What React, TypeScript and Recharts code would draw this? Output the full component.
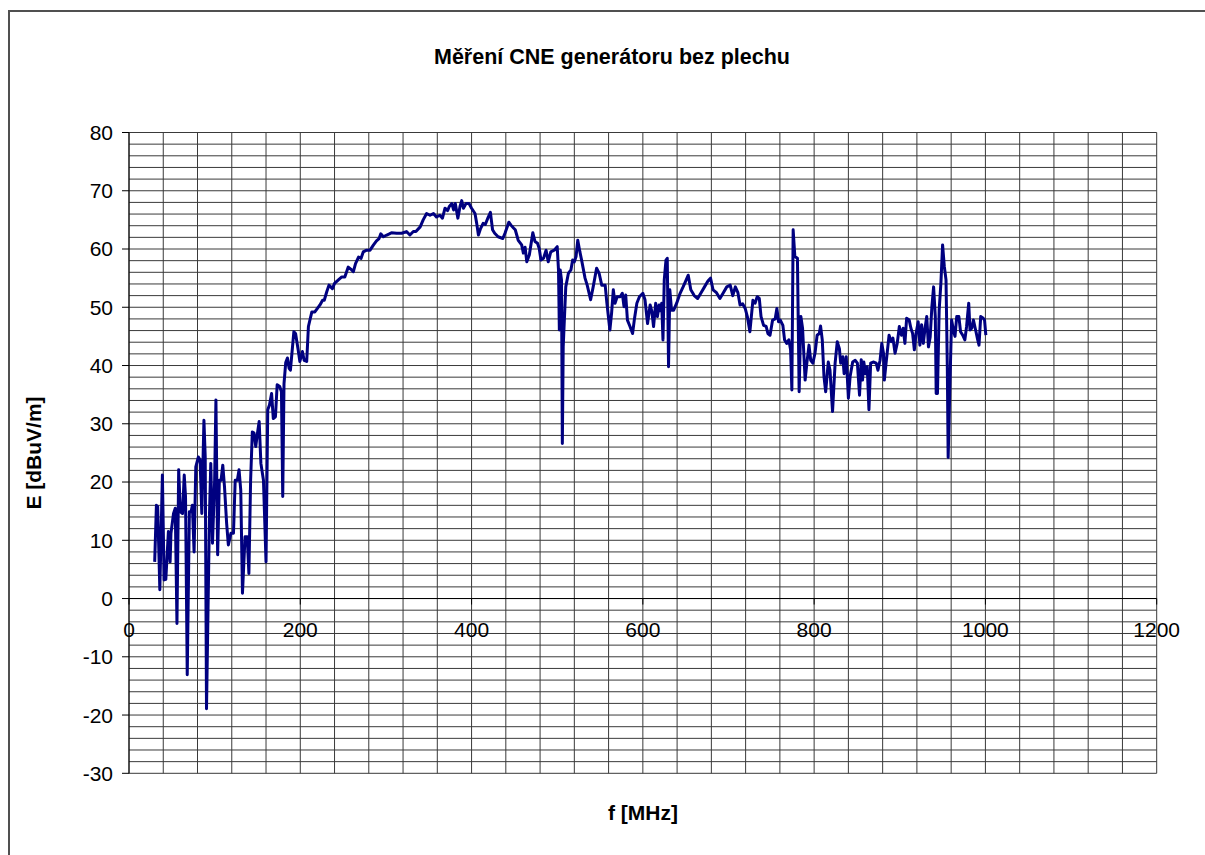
import React from 'react';
import { LineChart, Line, XAxis, YAxis, CartesianGrid, ReferenceLine } from 'recharts';

const TITLE = 'Měření CNE generátoru bez plechu';
const X_LABEL = 'f [MHz]';
const Y_LABEL = 'E [dBuV/m]';

const X_TICKS = [0, 200, 400, 600, 800, 1000, 1200];
const Y_TICKS = [-30, -20, -10, 0, 10, 20, 30, 40, 50, 60, 70, 80];

const FREQ_LOW = [
  30, 32, 33.5, 36, 39, 41, 43, 46, 48, 49, 52, 54, 56, 58, 60, 62.5, 64.5, 66, 68, 70.5,
  72.5, 74, 76, 78, 81, 83, 85, 87.5, 89, 90.5, 94, 95.5, 97.5, 100, 101.5, 103.5, 105.5, 107.5, 109.5, 111.5,
  114, 116, 119, 122, 124, 126.5, 128.5, 130.5, 132.5, 135.5, 138, 140, 142, 144, 146, 148, 150, 152, 154, 157,
  160, 162, 164, 166.5, 168.5, 171, 173, 176, 178, 179.5, 181, 183, 185, 187,
];
const LEVEL_LOW = [
  6.3, 16.0, 15.8, 1.5, 21.2, 3.2, 3.3, 11.5, 6.3, 11.2, 14.6, 15.5, -4.3, 22.1, 14.9, 14.6, 21.2, 17.5, -13.1, 14.9,
  14.9, 16.0, 8.0, 22.6, 24.3, 23.8, 14.6, 30.6, 24.3, -18.9, 14.6, 23.2, 9.5, 20.3, 34.1, 7.5, 20.3, 20.3, 22.9, 19.2,
  12.9, 9.2, 11.2, 11.2, 20.3, 20.3, 22.1, 18.6, 0.9, 10.6, 10.6, 4.3, 20.3, 28.6, 28.4, 26.1, 28.4, 30.4, 23.2, 20.3,
  6.3, 32.4, 33.2, 35.2, 30.9, 31.2, 36.7, 36.4, 35.5, 17.5, 36.9, 40.5, 41.3, 39.5,
];

const FREQ_MID = [
  188.5, 192.5, 194.5, 197.5, 199.5, 202.5, 204.5, 207.5, 209.5, 213.5, 217, 220, 223, 226, 228, 231, 233.5, 237.5, 240, 244.5,
  248.5, 252, 256, 260, 262, 264.5, 268, 271, 273.5, 277.5, 281.5, 285.5, 289, 292, 294, 297, 301, 304, 306.5, 312.5,
  318.5, 324, 328, 332, 335, 340, 343.5, 347.5, 351.5, 355.5, 359, 363, 366, 369, 372, 374, 377, 379, 381, 384,
  386.5, 388.5, 390.5, 393.5, 397, 400, 404, 406, 408, 410.5, 413.5, 416, 419, 422, 424.5, 427, 431, 436.5, 439, 443.5,
  446, 449, 451, 454.5, 458.5, 460.5, 462.5, 464.5, 467.5, 471.5, 474, 477, 479, 481, 484, 487, 489.5, 492.5, 496.5, 500,
  501.5, 502.5, 503.5, 505, 506, 507, 510, 513, 516, 518, 520, 522, 524, 526.5, 528.5, 532.5, 535, 539, 542, 546,
  549, 552, 556, 558, 561.5, 563.5, 565.5, 567.5, 570, 573.5, 576, 578, 580, 582, 585, 588, 590, 593, 596, 600,
  602.5, 605.5, 608.5, 610.5, 612.5, 615, 617, 619, 620.5, 622, 623.5, 625, 627, 628.5, 630, 631.5, 633.5, 636, 639.5, 643.5,
];
const LEVEL_MID = [
  39.2, 45.8, 45.5, 42.7, 40.7, 42.4, 40.9, 40.7, 46.7, 49.2, 49.2, 49.8, 50.4, 51.2, 51.2, 52.7, 53.8, 53.2, 54.1, 54.7,
  55.2, 55.2, 56.9, 56.4, 56.1, 57.5, 58.6, 58.4, 59.5, 59.8, 59.8, 60.7, 61.4, 61.8, 62.6, 62.1, 62.4, 62.6, 62.8, 62.7,
  62.7, 63.0, 62.4, 63.0, 63.0, 63.8, 65.0, 66.1, 65.8, 66.1, 65.5, 65.8, 65.3, 67.0, 66.6, 67.3, 67.8, 66.7, 67.8, 65.3,
  67.3, 68.3, 67.0, 67.8, 67.8, 67.0, 66.1, 64.4, 62.4, 63.5, 64.4, 64.2, 65.3, 66.3, 63.3, 62.7, 62.1, 61.8, 62.7, 64.6,
  64.1, 63.6, 63.3, 61.5, 60.7, 59.3, 60.3, 57.8, 59.0, 62.8, 61.3, 61.0, 60.1, 58.1, 58.4, 59.8, 57.8, 59.5, 59.8, 60.4,
  56.4, 46.1, 56.4, 54.7, 26.6, 43.2, 53.5, 55.8, 56.4, 58.1, 57.8, 58.7, 61.5, 59.5, 58.1, 55.0, 53.8, 51.3, 53.5, 56.7,
  55.8, 53.8, 53.8, 50.7, 46.1, 49.0, 53.0, 50.7, 51.8, 51.8, 52.4, 50.1, 52.1, 47.8, 46.7, 45.5, 47.8, 50.7, 51.8, 52.4,
  51.3, 47.2, 50.4, 49.3, 46.7, 50.7, 48.4, 50.4, 49.4, 50.7, 44.4, 54.7, 58.1, 58.4, 39.8, 53.0, 49.5, 49.5, 50.7, 52.4,
];

const FREQ_HIGH = [
  647, 650, 653, 656, 660, 664, 668, 672, 676, 679, 682, 686, 690, 694, 698, 702, 705, 708, 711,
  713.5, 716.5, 719.5, 722, 725, 728.5, 731, 733.5, 736, 738, 741, 744, 746, 748.5, 751.5, 754.5, 756.5, 758.5, 760.5, 763.5,
  765.5, 768, 770.5, 772.5, 774, 775.5, 777.5, 780.5, 782.5, 784.5, 786.5, 789.5, 791.5, 794, 796, 798.5, 801, 803.5, 806, 807.5,
  809.5, 811.5, 813.5, 816.5, 818.5, 821.5, 824.5, 827, 829.5, 831, 833.5, 835, 837.5, 840, 842, 845, 848, 850.5, 853, 855,
  856.5, 858, 860, 862, 864, 866, 869, 872.5, 874.5, 877, 879, 881, 882, 884, 887.5, 890, 892, 894.5, 897, 899.5,
  902, 904, 906, 908, 911, 913, 915, 917, 919, 921.5, 923.5, 925.5, 927.5, 929.5, 931.5, 933.5, 935.5, 937.5, 939.5, 941.5,
  942.5, 944, 946, 948, 950, 952, 954, 955.5, 956.5, 958.5, 960.5, 963, 964.5, 966.5, 969, 971, 973.5, 976, 978, 980.5,
  982, 984, 986, 989, 991, 992.5, 994.5, 997.5, 999, 1000.5,
];
const LEVEL_HIGH = [
  53.5, 54.5, 55.5, 53.0, 52.0, 51.5, 52.5, 53.5, 54.5, 55.0, 53.0, 52.5, 51.5, 52.5, 53.5, 53.8, 52.0, 53.5, 52.5,
  50.4, 50.6, 49.8, 48.4, 45.8, 51.2, 50.7, 51.8, 51.5, 48.4, 46.9, 46.7, 45.5, 45.2, 47.8, 48.0, 49.8, 47.5, 47.8, 46.9,
  44.4, 43.8, 44.4, 42.7, 35.8, 63.3, 58.7, 58.4, 35.5, 48.4, 46.4, 37.5, 40.4, 43.5, 40.9, 40.4, 42.1, 45.2, 45.5, 46.8,
  44.4, 38.1, 35.5, 40.6, 39.2, 32.1, 40.4, 44.1, 42.9, 40.4, 41.5, 38.6, 41.5, 34.4, 38.1, 40.6, 40.9, 40.4, 34.9, 41.0,
  37.5, 40.6, 38.6, 39.8, 32.4, 40.4, 40.6, 40.4, 39.2, 40.9, 43.8, 42.1, 37.5, 40.4, 45.2, 44.1, 44.7, 42.1, 43.8, 46.7,
  45.2, 46.4, 43.8, 48.1, 47.8, 46.4, 45.5, 42.7, 45.5, 47.5, 43.5, 47.0, 43.8, 46.4, 48.4, 43.2, 44.9, 50.1, 53.5, 48.4,
  35.2, 35.2, 49.5, 54.1, 60.7, 57.0, 54.7, 39.8, 24.2, 36.4, 47.8, 45.8, 45.0, 48.4, 48.4, 45.8, 45.2, 44.4, 46.7, 50.7,
  46.1, 46.4, 47.8, 45.8, 44.4, 43.5, 48.4, 48.1, 47.8, 45.2,
];

const FREQ = [...FREQ_LOW, ...FREQ_MID, ...FREQ_HIGH];
const LEVEL = [...LEVEL_LOW, ...LEVEL_MID, ...LEVEL_HIGH];
const data = FREQ.map((f, i) => ({ f, e: LEVEL[i] }));

const X_MIN = 0, X_MAX = 1200, X_GRID_STEP = 40;
const Y_MIN = -30, Y_MAX = 80, Y_GRID_STEP = 2;
const gridX = Array.from({ length: (X_MAX - X_MIN) / X_GRID_STEP + 1 }, (_, i) => X_MIN + i * X_GRID_STEP);
const gridY = Array.from({ length: (Y_MAX - Y_MIN) / Y_GRID_STEP + 1 }, (_, i) => Y_MIN + i * Y_GRID_STEP);

const W = 1205, H = 855;
const PLOT_LEFT = 129, PLOT_TOP = 132.5, PLOT_RIGHT = 1156.7, PLOT_BOTTOM = 773.3;
const PLOT_H = PLOT_BOTTOM - PLOT_TOP;
const Y_AXIS_W = 60, X_AXIS_H = 30;
const ZERO_Y = PLOT_TOP + ((Y_MAX - 0) / (Y_MAX - Y_MIN)) * PLOT_H;

const FONT = '"Liberation Sans", Arial, Helvetica, sans-serif';

const XTick = (props: any) => {
  const { x, payload } = props;
  return (
    <g>
      <line x1={x} x2={x} y1={ZERO_Y} y2={ZERO_Y + 6} stroke="#000" strokeWidth={1} />
      <text x={x} y={ZERO_Y + 31.5} dy="0.355em" textAnchor="middle" fontFamily={FONT} fontSize={21} fill="#000">
        {payload.value}
      </text>
    </g>
  );
};

export default function App() {
  return (
    <div style={{ position: 'fixed', left: 0, top: 0, width: W, height: H, overflow: 'hidden', background: '#fff' }}>
      <div
        style={{
          position: 'absolute', left: 8, top: 10, width: 1400, height: 1000,
          borderLeft: '2px solid #505050', borderTop: '2px solid #505050',
        }}
      />
      <div style={{ position: 'absolute', left: 0, top: 0 }}>
        <LineChart
          width={W}
          height={H}
          data={data}
          margin={{ top: PLOT_TOP, right: W - PLOT_RIGHT, bottom: H - PLOT_BOTTOM - X_AXIS_H, left: PLOT_LEFT - Y_AXIS_W }}
        >
          <CartesianGrid
            stroke="#3a3a3a"
            strokeWidth={1}
            horizontalValues={gridY}
            verticalValues={gridX}
          />
          <XAxis
            dataKey="f"
            type="number"
            domain={[X_MIN, X_MAX]}
            ticks={X_TICKS}
            allowDataOverflow
            axisLine={false}
            tickLine={false}
            height={X_AXIS_H}
            tick={<XTick />}
            interval={0}
          />
          <YAxis
            type="number"
            domain={[Y_MIN, Y_MAX]}
            ticks={Y_TICKS}
            allowDataOverflow
            width={Y_AXIS_W}
            interval={0}
            tickSize={7}
            tickMargin={9}
            stroke="#000"
            tick={{ fill: '#000', fontSize: 21, fontFamily: FONT }}
          />
          <ReferenceLine y={0} stroke="#000" strokeWidth={1} />
          <Line
            type="linear"
            dataKey="e"
            stroke="#000080"
            strokeWidth={3}
            strokeLinejoin="round"
            dot={false}
            activeDot={false}
            isAnimationActive={false}
          />
        </LineChart>
      </div>
      <svg style={{ position: 'absolute', left: 0, top: 0, pointerEvents: 'none' }} width={W} height={H}>
        <text x={612} y={63.5} textAnchor="middle" fontFamily={FONT} fontWeight="bold" fontSize={21.5} fill="#000">
          {TITLE}
        </text>
        <text x={643} y={820} textAnchor="middle" fontFamily={FONT} fontWeight="bold" fontSize={21} fill="#000">
          {X_LABEL}
        </text>
        <text
          x={41}
          y={453}
          textAnchor="middle"
          transform="rotate(-90 41 453)"
          fontFamily={FONT}
          fontWeight="bold"
          fontSize={21}
          fill="#000"
        >
          {Y_LABEL}
        </text>
      </svg>
    </div>
  );
}
